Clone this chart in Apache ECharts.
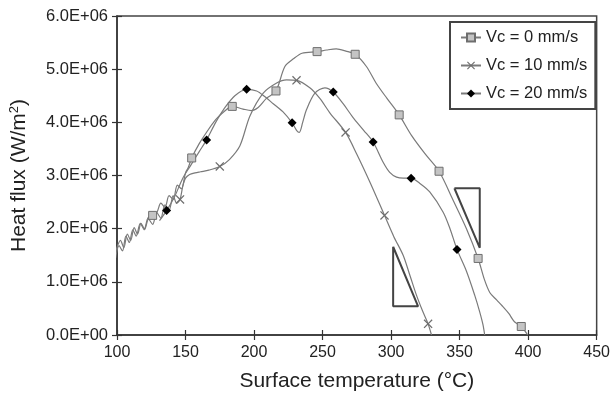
<!DOCTYPE html>
<html>
<head>
<meta charset="utf-8">
<script src="https://cdn.jsdelivr.net/npm/echarts@6/dist/echarts.min.js"></script>
<style>
  html, body { margin: 0; padding: 0; background: #fff; }
  #chart { width: 613px; height: 397px; }
</style>
</head>
<body>
<div id="chart"></div>
<script>
// flux en unidades de 1E+06 W/m2, temperatura en °C
const seriesNames = ["Vc = 0 mm/s", "Vc = 10 mm/s", "Vc = 20 mm/s"];

const vc0Curve = [
  [98.5, 1.5], [100, 1.65], [102.5, 1.78], [105, 1.64], [107.5, 1.9], [110, 1.78],
  [112.5, 2.02], [115, 1.9], [117.5, 2.1], [120, 2.0], [122.5, 2.2], [129, 2.3],
  [132, 2.48], [135, 2.4], [138, 2.62], [141, 2.55], [144, 2.82], [147, 2.75],
  [150, 3.05], [152, 3.15], [160, 3.6], [165, 3.8], [172, 4.05], [178, 4.2],
  [192, 4.25], [198, 4.22], [203, 4.28], [209, 4.45], [222.5, 5.05], [229, 5.2],
  [235, 5.3], [253, 5.36], [260, 5.38], [267, 5.34], [282, 5.05], [289, 4.74],
  [297, 4.45], [315, 3.75], [325, 3.4], [345, 2.55], [355, 2.0], [368, 1.05],
  [372, 0.8], [377, 0.66], [381, 0.55], [386, 0.4], [390, 0.25], [399.7, 0.0]
];
const vc0Marks = [
  [126, 2.25], [154.5, 3.33], [184.1, 4.3], [216, 4.59], [246, 5.33], [273.8, 5.28],
  [305.9, 4.14], [335, 3.08], [363.5, 1.44], [395, 0.16]
];

const vc10Curve = [
  [99, 1.45], [101.5, 1.68], [104, 1.58], [106.5, 1.86], [109, 1.74], [111.5, 1.98],
  [114, 1.86], [117, 2.1], [120, 1.98], [123, 2.18], [126, 2.08], [129, 2.3],
  [132, 2.2], [135, 2.45], [138, 2.35], [141, 2.62], [143.5, 2.48], [148, 2.8],
  [150, 2.95], [153, 3.02], [157, 3.05], [161, 3.07], [167, 3.1], [182, 3.3],
  [189.7, 3.56], [197, 4.12], [206.7, 4.55], [216.5, 4.74], [223.7, 4.8],
  [240.7, 4.65], [248, 4.45], [255.3, 4.18], [275, 3.4], [285, 2.85], [302, 1.85],
  [308.8, 1.5], [314, 1.1], [318.5, 0.75], [323, 0.45], [329.5, 0.0]
];
const vc10Marks = [
  [146, 2.55], [175, 3.17], [231, 4.79], [266.8, 3.81], [295.2, 2.25], [327, 0.21]
];

const vc20Curve = [
  [131, 2.15], [142, 2.6], [148, 2.95], [154, 3.2], [160, 3.45], [172, 4.0],
  [178, 4.25], [186, 4.5], [201.9, 4.59], [208, 4.48], [214, 4.35], [221, 4.2],
  [231, 3.85], [233, 3.81], [235.5, 4.0], [238.3, 4.24], [244.4, 4.55], [251.7, 4.65],
  [265, 4.35], [272, 4.1], [280, 3.85], [294.2, 3.25], [299, 3.06], [304, 2.97],
  [309, 2.95], [321, 2.85], [328.2, 2.69], [338, 2.31], [343, 2.0], [355, 1.2],
  [361, 0.75], [364.5, 0.45], [367, 0.2], [368.3, 0.0]
];
const vc20Marks = [
  [136.2, 2.34], [165.4, 3.67], [194.6, 4.62], [227.8, 3.99], [257.8, 4.57],
  [286.9, 3.63], [314.6, 2.95], [348.1, 1.61]
];

// triángulos de pendiente
const slopeTri1 = [[301.5, 1.66], [301.5, 0.54], [319.7, 0.54], [301.5, 1.66]];
const slopeTri2 = [[346.2, 2.76], [364.7, 2.76], [364.7, 1.64], [346.2, 2.76]];

const xTicks = { min: 100, max: 450, step: 50 };
const yTicks = { min: 0, max: 6, step: 1 };

const crossPath = "path://M0,1L1,0L5,4L9,0L10,1L6,5L10,9L9,10L5,6L1,10L0,9L4,5Z";

function build(curve, marks) {
  const pts = curve.map((p) => ({ value: p, symbol: "none" }))
    .concat(marks.map((p) => ({ value: p })));
  pts.sort((a, b) => a.value[0] - b.value[0]);
  return pts;
}

const lineGray = "#7a7a7a";
const axisDark = "#333";
const font = "Liberation Sans, Arial, sans-serif";

const dom = document.getElementById("chart");
const myChart = echarts.init(dom, null, { renderer: "canvas" });

const baseX = {
  type: "value",
  min: xTicks.min, max: xTicks.max, interval: xTicks.step,
  position: "bottom",
  splitLine: { show: false }
};
const baseY = {
  type: "value",
  min: yTicks.min, max: yTicks.max, interval: yTicks.step,
  position: "left",
  splitLine: { show: false }
};

const option = {
  animation: false,
  backgroundColor: "#fff",
  grid: {
    left: 117, right: 16, top: 16, bottom: 60,
    show: true, borderColor: "#444", borderWidth: 1.5
  },
  legend: {
    data: seriesNames,
    orient: "vertical",
    left: 450, top: 22,
    padding: [7, 8, 7, 10],
    itemGap: 11,
    itemWidth: 20, itemHeight: 10,
    borderColor: "#444", borderWidth: 2, borderRadius: 0,
    backgroundColor: "#fff",
    textStyle: { fontSize: 16.5, color: "#222", fontFamily: font }
  },
  xAxis: [
    Object.assign({}, baseX, {
      name: "Surface temperature (°C)",
      nameLocation: "middle",
      nameGap: 36,
      nameTextStyle: { fontSize: 21, color: "#222", fontFamily: font },
      axisLine: { lineStyle: { color: axisDark, width: 1.5 } },
      axisTick: { length: 5, lineStyle: { color: axisDark, width: 1.2 } },
      axisLabel: { fontSize: 16, color: "#222", fontFamily: font, margin: 10 }
    }),
    Object.assign({}, baseX, {
      axisLine: { show: false },
      axisTick: { inside: true, length: 5, lineStyle: { color: axisDark, width: 1.2 } },
      axisLabel: { show: false }
    })
  ],
  yAxis: [
    Object.assign({}, baseY, {
      name: "Heat flux (W/m{sup|2})",
      nameLocation: "middle",
      nameGap: 86,
      nameTextStyle: {
        fontSize: 21, color: "#222", fontFamily: font,
        rich: { sup: { fontSize: 13, padding: [0, 0, 10, 0], color: "#222", fontFamily: font } }
      },
      axisLine: { lineStyle: { color: axisDark, width: 1.5 } },
      axisTick: { length: 5, lineStyle: { color: axisDark, width: 1.2 } },
      axisLabel: {
        fontSize: 16.5, color: "#222", fontFamily: font, margin: 9,
        formatter: (v) => (v === 0 ? "0.0E+00" : v.toFixed(1) + "E+06")
      }
    }),
    Object.assign({}, baseY, {
      axisLine: { show: false },
      axisTick: { inside: true, length: 5, lineStyle: { color: axisDark, width: 1.2 } },
      axisLabel: { show: false }
    })
  ],
  series: [
    {
      name: seriesNames[0], type: "line", smooth: 0.3,
      data: build(vc0Curve, vc0Marks),
      symbol: "rect", symbolSize: 8,
      itemStyle: { color: "#c4c4c4", borderColor: "#6e6e6e", borderWidth: 1 },
      lineStyle: { color: lineGray, width: 1.2 },
      z: 3
    },
    {
      name: seriesNames[1], type: "line", smooth: 0.3,
      data: build(vc10Curve, vc10Marks),
      symbol: crossPath, symbolSize: 9,
      itemStyle: { color: "#6e6e6e" },
      lineStyle: { color: lineGray, width: 1.2 },
      z: 3
    },
    {
      name: seriesNames[2], type: "line", smooth: 0.3,
      data: build(vc20Curve, vc20Marks),
      symbol: "diamond", symbolSize: 9,
      itemStyle: { color: "#000" },
      lineStyle: { color: lineGray, width: 1.2 },
      z: 3
    },
    {
      type: "line", data: slopeTri1, symbol: "none",
      lineStyle: { color: "#444", width: 2 }, silent: true, z: 2
    },
    {
      type: "line", data: slopeTri2, symbol: "none",
      lineStyle: { color: "#444", width: 2 }, silent: true, z: 2
    }
  ]
};

myChart.setOption(option);
</script>
</body>
</html>
